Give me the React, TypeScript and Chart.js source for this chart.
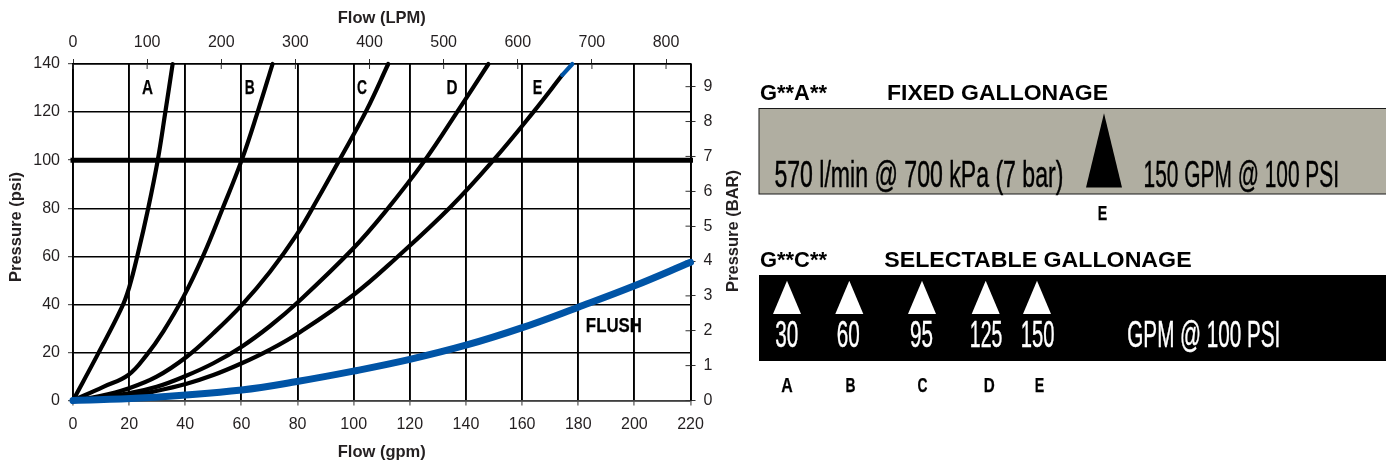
import React, { useEffect, useRef } from "react";
import { Chart, registerables } from "chart.js";

Chart.register(...registerables);

// ---- data ----
const flowA = [0, 9, 17.3, 20, 23, 26.8, 30.2, 33, 35.5];
const psiA = [0, 19.6, 38.5, 47, 60.5, 80, 100, 120.8, 140];
const flowB = [0, 10.8, 19.7, 26.2, 32.2, 39.3, 46.4, 53.2, 60.1, 66, 71.1];
const psiB = [0, 5.7, 10.6, 18.9, 28.8, 43, 60.3, 79.6, 100, 120.8, 140];
const flowC = [0, 9.6, 19.7, 29.8, 40.5, 50, 60.1, 70.2, 79.7, 87, 94.9, 104.6, 112.3];
const psiC = [0, 1.8, 5, 9.9, 18.2, 28, 39.7, 53.6, 69, 83.5, 100, 120.8, 140];
const flowD = [0, 19.7, 29.8, 40.1, 50, 60.1, 70.2, 80.3, 99.3, 111.2, 125.4, 137.3, 148];
const psiD = [0, 3, 5.7, 10.2, 15.5, 22.4, 31, 41.1, 62.6, 78.5, 100, 120.8, 140];
const flowE = [0, 19.7, 28.6, 40.5, 50, 60.1, 70.2, 80.3, 99.9, 114.9, 134.5, 149.8, 164, 174.3];
const psiE = [0, 1.8, 3.7, 7, 10.6, 15.5, 21.2, 28, 43.9, 59, 80.5, 100, 120, 135.4];
const flowETip = [174.3, 177.9];
const psiETip = [135.4, 140];
const flowFlush = [0, 23.9, 60.1, 80.3, 99.9, 120, 140.3, 159.8, 180, 199.6, 220];
const psiFlush = [0, 1, 4.4, 8, 12.2, 17.1, 23.1, 30.2, 38.8, 47.5, 57.5];
const flowRated = [0, 220];
const psiRated = [100, 100];

const curveLabels = ["A", "B", "C", "D", "E", "FLUSH"];
const curveLabelFlow = [26.5, 63, 103, 135, 165.5, 192.7];
const curveLabelPsi = [130, 130, 130, 130, 130, 31];

const fixedTitleCode = "G**A**";
const fixedTitle = "FIXED GALLONAGE";
const fixedMetric = "570 l/min @ 700 kPa (7 bar)";
const fixedImperial = "150 GPM @ 100 PSI";
const fixedLetter = "E";
const selectableTitleCode = "G**C**";
const selectableTitle = "SELECTABLE GALLONAGE";
const selectableFlows = ["30", "60", "95", "125", "150"];
const selectableLetters = ["A", "B", "C", "D", "E"];
const selectableUnit = "GPM @ 100 PSI";

// ---- styles ----
const BLACK = "#000000";
const BLUE = "#0054a6";
const SANS = '"Liberation Sans", Arial, sans-serif';
const TEXT = "#231f20";
const CANVAS_W = 750;
const CANVAS_H = 462;
const curveLabelW = [11, 10, 10, 11, 9.5, 56];

const toPoints = (xs: number[], ys: number[]) => xs.map((x, i) => ({ x, y: ys[i] }));

const curve = (xs: number[], ys: number[], color: string, width: number) => ({
  data: toPoints(xs, ys),
  showLine: true,
  borderColor: color,
  backgroundColor: color,
  borderWidth: width,
  pointRadius: 0,
  tension: 0.4,
  borderCapStyle: "round" as const,
  borderJoinStyle: "round" as const,
  clip: false as const,
});

const extras = {
  id: "extras",
  beforeDatasetsDraw(chart: any) {
    const { ctx, chartArea, scales } = chart;
    ctx.save();
    ctx.strokeStyle = "#333333";
    ctx.lineWidth = 1;
    ctx.beginPath();
    scales.xLpm.ticks.forEach((t: any) => {
      const px = scales.xLpm.getPixelForValue(t.value);
      ctx.moveTo(px, chartArea.top);
      ctx.lineTo(px, chartArea.top + 5);
    });
    scales.yBar.ticks.forEach((t: any) => {
      const py = scales.yBar.getPixelForValue(t.value);
      ctx.moveTo(chartArea.right, py);
      ctx.lineTo(chartArea.right - 5, py);
    });
    ctx.stroke();
    ctx.restore();
  },
  afterDraw(chart: any) {
    const { ctx, scales } = chart;
    ctx.save();
    ctx.fillStyle = BLACK;
    ctx.strokeStyle = BLACK;
    ctx.lineWidth = 0.25;
    ctx.textAlign = "center";
    ctx.textBaseline = "middle";
    ctx.font = `bold 20px ${SANS}`;
    curveLabels.forEach((label, i) => {
      const px = scales.x.getPixelForValue(curveLabelFlow[i]);
      const py = scales.y.getPixelForValue(curveLabelPsi[i]);
      ctx.fillText(label, px, py, curveLabelW[i]);
      ctx.strokeText(label, px, py, curveLabelW[i]);
    });
    ctx.font = `bold 16.5px ${SANS}`;
    ctx.fillStyle = TEXT;
    const vertical = (text: string, x: number, y: number) => {
      ctx.save();
      ctx.translate(x, y);
      ctx.rotate(-Math.PI / 2);
      ctx.fillText(text, 0, 0);
      ctx.restore();
    };
    vertical("Pressure (psi)", 16, 227);
    vertical("Pressure (BAR)", 733, 231);
    ctx.restore();
  },
};

const tickFont = { family: SANS, size: 16 };
const titleFont = { family: SANS, size: 16.5, weight: "bold" as const };

function Label(p: { x: number; y: number; w?: number; size: number; fill: string; bold?: boolean; heavy?: number; mid?: boolean; children: string }) {
  return (
    <text
      x={p.x}
      y={p.y}
      fontSize={p.size}
      fill={p.fill}
      stroke={p.heavy ? p.fill : "none"}
      strokeWidth={p.heavy || 0}
      fontWeight={p.bold ? 700 : 400}
      fontFamily={SANS}
      textAnchor={p.mid ? "middle" : "start"}
      {...(p.w ? { textLength: p.w, lengthAdjust: "spacingAndGlyphs" } : {})}
    >
      {p.children}
    </text>
  );
}

const tri = (cx: number, apex: number, base: number, half: number) =>
  `${cx},${apex} ${cx + half},${base} ${cx - half},${base}`;

const markerX = [787, 849.3, 922, 985.7, 1037];
const flowTextX = [775.2, 836.7, 910, 969.8, 1020.7];
const flowTextW = [23, 23, 23, 32.5, 33.7];
const letterX = [787, 850.5, 922.6, 989.3, 1039.4];
const letterW = [11.5, 10, 10, 11, 9.5];

export default function App() {
  const ref = useRef<HTMLCanvasElement>(null);

  useEffect(() => {
    if (!ref.current) return;
    const chart = new Chart(ref.current, {
      type: "scatter",
      plugins: [extras],
      data: {
        datasets: [
          { ...curve(flowETip, psiETip, BLUE, 4.2), tension: 0 },
          curve(flowFlush, psiFlush, BLUE, 7),
          curve(flowA, psiA, BLACK, 4.2),
          curve(flowB, psiB, BLACK, 4.2),
          curve(flowC, psiC, BLACK, 4.2),
          curve(flowD, psiD, BLACK, 4.2),
          curve(flowE, psiE, BLACK, 4.2),
          { ...curve(flowRated, psiRated, BLACK, 5), tension: 0, borderCapStyle: "square" as const },
        ],
      } as any,
      options: {
        animation: false,
        responsive: false,
        events: [],
        layout: { autoPadding: false, padding: 0 },
        plugins: { legend: { display: false }, tooltip: { enabled: false }, title: { display: false } },
        scales: {
          x: {
            type: "linear",
            position: "bottom",
            min: 0,
            max: 220,
            ticks: { stepSize: 20, font: tickFont, color: TEXT, padding: 9, maxRotation: 0, autoSkip: false, includeBounds: false },
            grid: { color: BLACK, lineWidth: 1.9, tickLength: 5, tickWidth: 1, tickColor: "#333333" },
            border: { color: "#404040", width: 1.6 },
            title: { display: true, text: "Flow (gpm)", font: titleFont, color: TEXT, padding: { top: 0, bottom: 0 } },
            afterFit: (s: any) => { s.height = 61.5; },
          },
          xLpm: {
            type: "linear",
            position: "top",
            min: 0,
            max: 833,
            ticks: { stepSize: 100, font: tickFont, color: TEXT, padding: 7, maxRotation: 0, autoSkip: false, includeBounds: false },
            grid: { drawOnChartArea: false, tickLength: 5, tickWidth: 1, tickColor: "#333333" },
            border: { color: BLACK, width: 1.6 },
            title: { display: true, text: "Flow (LPM)", font: titleFont, color: TEXT, padding: { top: 9, bottom: 0 } },
            afterFit: (s: any) => { s.height = 64; },
          },
          y: {
            type: "linear",
            position: "left",
            min: 0,
            max: 140,
            ticks: { stepSize: 20, font: tickFont, color: TEXT, padding: 8, autoSkip: false, includeBounds: false },
            grid: { color: BLACK, lineWidth: 1.4, tickLength: 5, tickWidth: 1, tickColor: "#333333" },
            border: { color: BLACK, width: 1.6 },
            afterFit: (s: any) => { s.width = 73; },
          },
          yBar: {
            type: "linear",
            position: "right",
            min: 0,
            max: 9.65,
            ticks: { stepSize: 1, font: tickFont, color: TEXT, padding: 8, autoSkip: false, includeBounds: false },
            grid: { drawOnChartArea: false, tickLength: 5, tickWidth: 1, tickColor: "#333333" },
            border: { color: BLACK, width: 1.6 },
            afterFit: (s: any) => { s.width = 59.5; },
          },
        },
      } as any,
    });
    return () => chart.destroy();
  }, []);

  return (
    <div style={{ position: "fixed", left: 0, top: 0, width: 1386, height: 462, overflow: "hidden", background: "#fff" }}>
      <canvas
        ref={ref}
        width={CANVAS_W}
        height={CANVAS_H}
        style={{ position: "absolute", left: 0, top: 0, width: CANVAS_W, height: CANVAS_H }}
      />
      <svg width={1386} height={462} style={{ position: "absolute", left: 0, top: 0 }}>
        <Label x={760} y={100} w={67} size={21.5} fill={BLACK} bold>{fixedTitleCode}</Label>
        <Label x={887} y={100} w={221} size={21.5} fill={BLACK} bold>{fixedTitle}</Label>
        <rect x={759} y={108.5} width={640} height={85.5} fill="#b0aea1" stroke="#1a1a1a" strokeWidth={1} />
        <Label x={774.4} y={186.5} w={289} size={36} fill={BLACK} heavy={0.45}>{fixedMetric}</Label>
        <polygon points={tri(1104, 113.3, 187.5, 18)} fill={BLACK} />
        <Label x={1143.6} y={186.5} w={195.4} size={36} fill={BLACK} heavy={0.45}>{fixedImperial}</Label>
        <Label x={1102.5} y={220} w={9.5} size={19.5} fill={BLACK} bold mid heavy={0.25}>{fixedLetter}</Label>

        <Label x={760} y={267} w={67} size={21.5} fill={BLACK} bold>{selectableTitleCode}</Label>
        <Label x={884.3} y={267} w={307.3} size={21.5} fill={BLACK} bold>{selectableTitle}</Label>
        <rect x={759} y={275} width={640} height={86} fill={BLACK} />
        {selectableFlows.map((v, i) => (
          <React.Fragment key={v}>
            <polygon points={tri(markerX[i], 280.7, 314, 14)} fill="#ffffff" />
            <Label x={flowTextX[i]} y={347.3} w={flowTextW[i]} size={36} fill="#ffffff" heavy={0.45}>{v}</Label>
            <Label x={letterX[i]} y={391.7} w={letterW[i]} size={19.5} fill={BLACK} bold mid heavy={0.25}>{selectableLetters[i]}</Label>
          </React.Fragment>
        ))}
        <Label x={1127.3} y={347.3} w={153} size={36} fill="#ffffff" heavy={0.45}>{selectableUnit}</Label>
      </svg>
    </div>
  );
}
